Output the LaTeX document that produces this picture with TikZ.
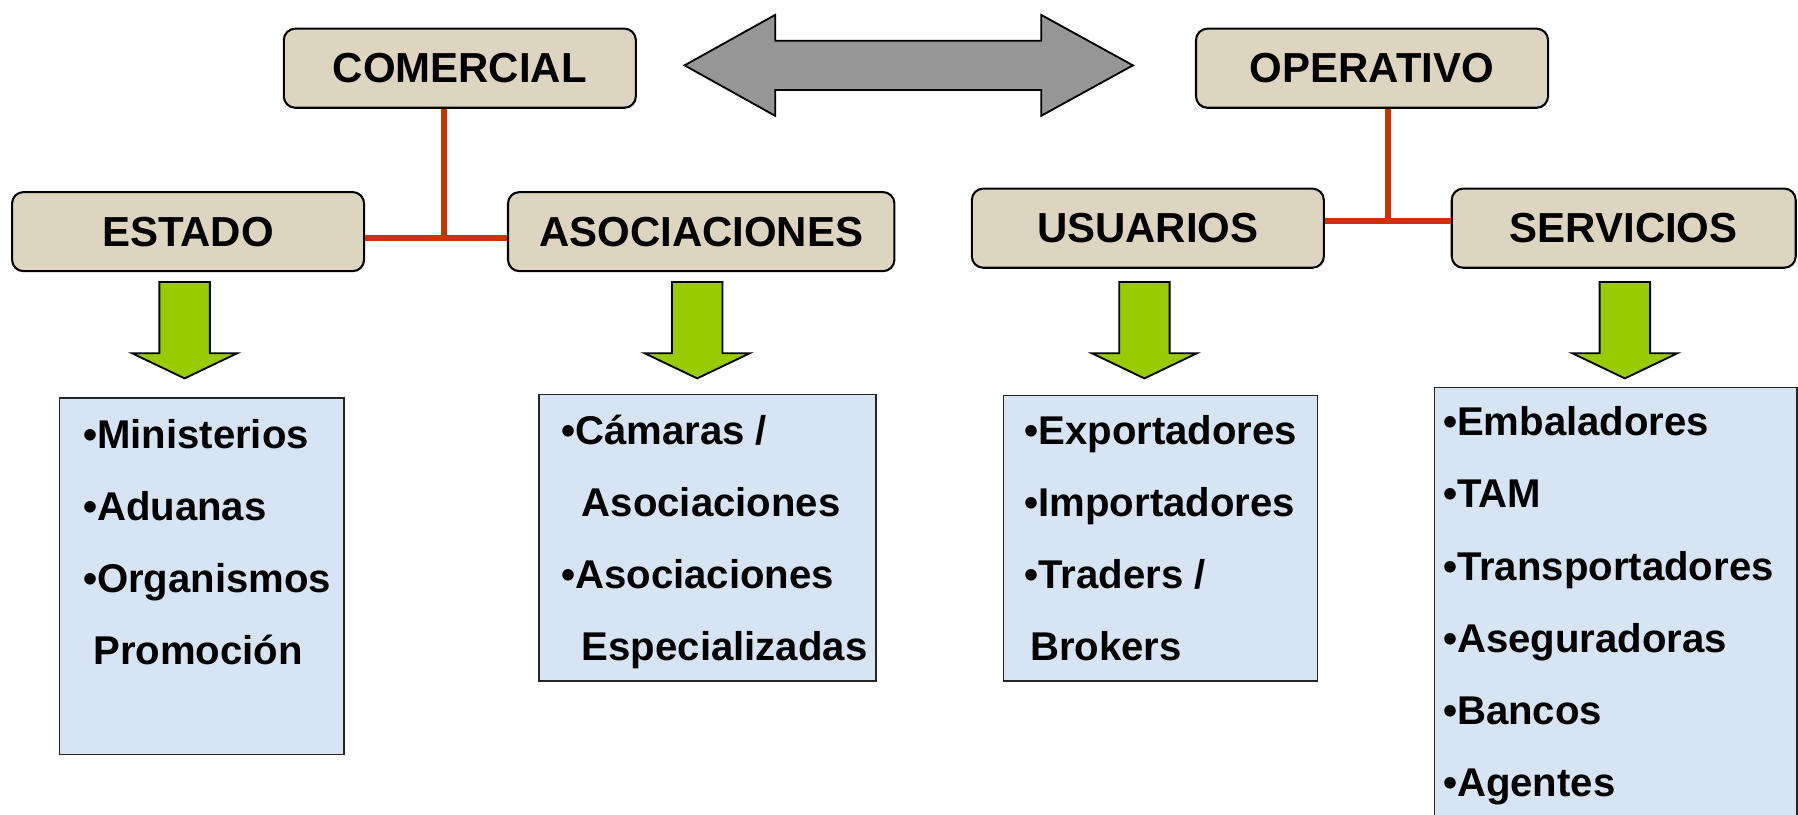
\documentclass[tikz,border=0pt]{standalone}
\usepackage{fontspec}
\setmainfont{Liberation Sans}
\definecolor{hdrfill}{RGB}{222,213,193}
\definecolor{listfill}{RGB}{214,228,243}
\definecolor{linkred}{RGB}{204,51,0}
\definecolor{arrgreen}{RGB}{153,204,0}
\definecolor{arrgray}{RGB}{150,150,150}
\tikzset{
  hdr/.style={draw=black, line width=0.9pt, fill=hdrfill, rounded corners=5pt,
    minimum width=153.5pt, minimum height=34.5pt, inner sep=0pt,
    font=\fontsize{18.3}{20}\selectfont\bfseries},
  listbox/.style={draw=black!85, line width=0.6pt, fill=listfill, inner sep=0pt},
  item/.style={anchor=base west, inner sep=0pt, font=\fontsize{17.5}{20}\selectfont\bfseries},
  link/.style={draw=linkred, line width=2.5pt},
  downarr/.pic={\draw[fill=arrgreen, draw=black, line width=0.8pt]
    (-22,0) -- (22,0) -- (22,62) -- (46,62) -- (0,84) -- (-46,62) -- (-22,62) -- cycle;}
}
\begin{document}
\begin{tikzpicture}[x=0.5pt,y=-0.5pt]
\fill[white] (0,0) rectangle (1568,710);
\clip (0,0) rectangle (1568,710);
% header boxes
\node[hdr] (comercial) at (401,59.5) {COMERCIAL};
\node[hdr] (operativo) at (1196.5,59.5) {OPERATIVO};
\node[hdr] (estado) at (164,202) {ESTADO};
\node[hdr, minimum width=168.5pt] (asoc) at (611.5,202) {ASOCIACIONES};
\node[hdr] (usuarios) at (1001,199) {USUARIOS};
\node[hdr, minimum width=150pt] (servicios) at (1416,199) {SERVICIOS};
% double arrow
\draw[fill=arrgray, draw=black, line width=0.8pt]
  (597,57) -- (676,13) -- (676,35.5) -- (908,35.5) -- (908,13) -- (988,57)
  -- (908,101) -- (908,78.5) -- (676,78.5) -- (676,101) -- cycle;
% red links
\coordinate (jl) at (387,207.5);
\coordinate (jr) at (1210.5,193);
\draw[link] (estado.east |- jl) -- (asoc.west |- jl);
\draw[link] (comercial.south -| jl) -- (jl);
\draw[link] (usuarios.east |- jr) -- (servicios.west |- jr);
\draw[link] (operativo.south -| jr) -- (jr);
% green arrows
\pic at (161,246) {downarr};
\pic at (608,246) {downarr};
\pic at (998,246) {downarr};
\pic at (1417,246) {downarr};
% list boxes
\node[listbox, minimum width=124pt, minimum height=155.5pt] (box1) at (176,502.5) {};
\node[listbox, minimum width=147pt, minimum height=125pt] (box2) at (617,469) {};
\node[listbox, minimum width=137pt, minimum height=124.5pt] (box3) at (1012,469.5) {};
\node[listbox, minimum width=158pt, minimum height=196pt] (box4) at (1409,534) {};
% list texts
\foreach \t [count=\i] in {•Ministerios,•Aduanas,•Organismos,{\hspace{4.5pt}Promoción}}
  \node[item] (a\i) at (72,{391+62.7*(\i-1)}) {\t};
\foreach \t [count=\i] in {•Cámaras /,{\hspace{9pt}Asociaciones},•Asociaciones,{\hspace{9pt}Especializadas}}
  \node[item] (b\i) at (489,{388+62.7*(\i-1)}) {\t};
\foreach \t [count=\i] in {•Exportadores,•Importadores,•Traders /,{\hspace{2.5pt}Brokers}}
  \node[item] (c\i) at (893,{388+62.7*(\i-1)}) {\t};
\foreach \t [count=\i] in {•Embaladores,•TAM,•Transportadores,•Aseguradoras,•Bancos,•Agentes}
  \node[item] (d\i) at (1258,{380+63*(\i-1)}) {\t};
\end{tikzpicture}
\end{document}
